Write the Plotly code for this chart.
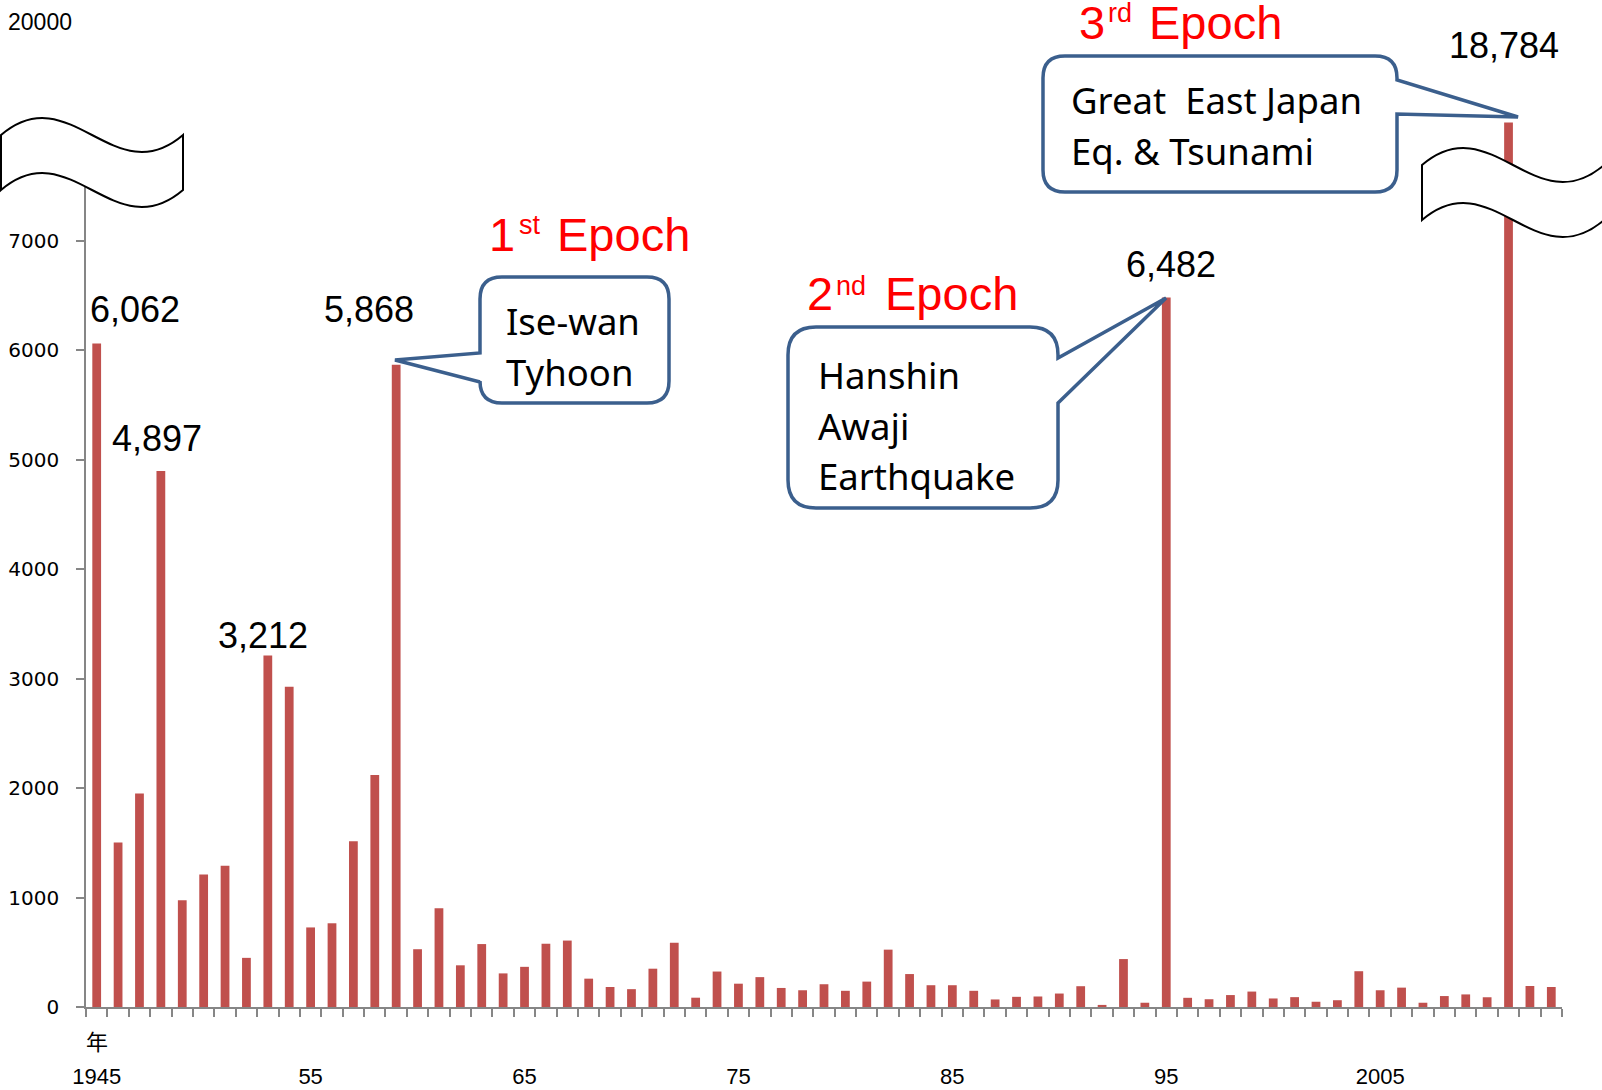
import plotly.graph_objects as go

# ---------------------------------------------------------------- data
years = list(range(1945, 2014))
deaths = [
    6062, 1504, 1950, 4897, 975, 1210, 1291, 449, 3212, 2926,   # 1945-54
    727, 765, 1515, 2120, 5868, 528, 902, 381, 575, 307,        # 1955-64
    367, 578, 607, 259, 183, 163, 350, 587, 85, 324,            # 1965-74
    213, 273, 174, 153, 208, 148, 232, 524, 301, 199,           # 1975-84
    199, 148, 69, 93, 96, 123, 190, 19, 438, 39,                # 1985-94
    6482, 84, 71, 109, 141, 78, 90, 48, 62, 327,                # 1995-2004
    153, 177, 39, 100, 115, 89, 18784, 192, 183,                # 2005-13
]
year_tick_labels = {1945: "1945", 1955: "55", 1965: "65", 1975: "75",
                    1985: "85", 1995: "95", 2005: "2005"}
lower_tick_values = [0, 1000, 2000, 3000, 4000, 5000, 6000, 7000]
upper_tick_values = [20000]
labelled_years = [1945, 1948, 1953, 1959, 1995, 2011]
epoch_ordinals = [("1", "st"), ("2", "nd"), ("3", "rd")]
event_lines = [
    ["Ise-wan", "Tyhoon"],
    ["Hanshin", "Awaji", "Earthquake"],
    ["Great\u00a0 East Japan", "Eq. & Tsunami"],
]

# ---------------------------------------------------------- geometry
W, H = 1602, 1090
PLOT_L, PLOT_R, PLOT_T, PLOT_B = 86, 1562, 22, 1007
PLOT_W = PLOT_R - PLOT_L
PLOT_H = PLOT_B - PLOT_T

LOWER_RANGE = [0, 7500]
LOWER_TOP_FRAC = 7500 / 9000          # same scale as a 0-9000 axis
UPPER_RANGE = [18150, 20000]
UPPER_BOTTOM_PX = 175                 # hidden under the break marks


def px(x):
    return (x - PLOT_L) / PLOT_W


def py(y):
    return (PLOT_B - y) / PLOT_H


def pt(x, y):
    return f"{px(x):.5f},{py(y):.5f}"


def wave_path(x0, y0, w=182, band=55, a=69, b=59):
    """Wavy band used as an axis-break mark (top-left corner at x0, y0)."""
    return (f"M{pt(x0, y0)} C{pt(x0 + a, y0 - b)} {pt(x0 + w - a, y0 + b)} {pt(x0 + w, y0)}"
            f" L{pt(x0 + w, y0 + band)}"
            f" C{pt(x0 + w - a, y0 + band + b)} {pt(x0 + a, y0 + band - b)} {pt(x0, y0 + band)} Z")


def callout_path(l, t, r, b, rad, side, j1, j2, tip):
    """Rounded box with a triangular pointer leaving the given side."""
    tx, ty = tip
    s = f"M{pt(l + rad, t)} L{pt(r - rad, t)} Q{pt(r, t)} {pt(r, t + rad)}"
    if side == "right":
        s += f" L{pt(r, j1)} L{pt(tx, ty)} L{pt(r, j2)}"
    s += f" L{pt(r, b - rad)} Q{pt(r, b)} {pt(r - rad, b)}"
    s += f" L{pt(l + rad, b)} Q{pt(l, b)} {pt(l, b - rad)}"
    if side == "left":
        s += f" L{pt(l, j2)} L{pt(tx, ty)} L{pt(l, j1)}"
    s += f" L{pt(l, t + rad)} Q{pt(l, t)} {pt(l + rad, t)} Z"
    return s


cats = [str(y) for y in years]
BAR = "#C0504D"
AXIS = "#868686"
BLUE = "#3B5F8D"
RED = "#FF0000"
ARIAL = "Liberation Sans, Arial"

fig = go.Figure()
# main bars on the lower (0-7500) axis
fig.add_trace(go.Bar(x=cats, y=deaths, marker=dict(color=BAR, line=dict(width=0)),
                     width=0.41, xaxis="x", yaxis="y", showlegend=False))
# the same bars on the upper segment of the broken axis
fig.add_trace(go.Bar(x=cats, y=deaths, marker=dict(color=BAR, line=dict(width=0)),
                     width=0.41, xaxis="x", yaxis="y2", showlegend=False))

fig.update_layout(
    template="none",
    width=W, height=H,
    margin=dict(l=PLOT_L, r=W - PLOT_R, t=PLOT_T, b=H - PLOT_B, pad=0),
    paper_bgcolor="white", plot_bgcolor="rgba(0,0,0,0)",
    barmode="overlay",
    showlegend=False,
    xaxis=dict(
        type="category", categoryorder="array", categoryarray=cats,
        range=[-0.5, len(cats) - 0.5], anchor="y",
        showline=True, linecolor=AXIS, linewidth=1.5,
        showgrid=False, zeroline=False,
        ticks="outside", ticklen=8, tickwidth=1.5, tickcolor=AXIS,
        tickson="boundaries",
        tickmode="array", tickvals=cats,
        ticktext=[year_tick_labels.get(y, "") for y in years],
        tickangle=0,
        tickfont=dict(family=ARIAL, size=22, color="black"),
        ticklabelstandoff=49, automargin=False,
    ),
    yaxis=dict(
        domain=[0, LOWER_TOP_FRAC], range=LOWER_RANGE, anchor="x",
        showline=True, linecolor=AXIS, linewidth=1.5,
        showgrid=False, zeroline=False,
        ticks="outside", ticklen=8, tickwidth=1.5, tickcolor=AXIS,
        tickmode="array", tickvals=lower_tick_values,
        ticktext=[str(v) for v in lower_tick_values],
        tickfont=dict(family="DejaVu Sans", size=20, color="black"),
        ticklabelstandoff=13, automargin=False,
    ),
    yaxis2=dict(
        domain=[py(UPPER_BOTTOM_PX), 1], range=UPPER_RANGE, anchor="x",
        showline=False, showgrid=False, zeroline=False,
        ticks="", tickmode="array", tickvals=upper_tick_values,
        ticktext=[str(v) for v in upper_tick_values],
        tickfont=dict(family=ARIAL, size=23, color="black"),
        ticklabelstandoff=13, automargin=False,
    ),
)

# value labels above the highlighted bars (x given as category index)
value_label_offsets = {1945: (38, 34), 1948: (-4, 33), 1953: (-5, 20),
                       1959: (-27, 55), 1995: (5, 33), 2011: (-5, 77)}
for yr in labelled_years:
    i = years.index(yr)
    v = deaths[i]
    dx, dy = value_label_offsets[yr]
    fig.add_annotation(
        x=i, y=v, xref="x", yref="y2" if v > LOWER_RANGE[1] else "y",
        text=f"{v:,}", showarrow=False, xanchor="center", yanchor="middle",
        xshift=dx, yshift=dy,
        font=dict(family=ARIAL, size=36, color="black"),
    )

# epoch headings: number, raised ordinal suffix, then "Epoch"
# (x centres of the three pieces, y centre of the capitals)
epoch_layout = [((502, 530, 623), 234), ((820, 851, 951), 294), ((1092, 1120, 1215), 22)]
for (num, suf), ((xn, xs, xe), yc) in zip(epoch_ordinals, epoch_layout):
    for txt, xx, yy, size in [(num, xn, yc, 47), (suf, xs, yc - 8.5, 27), ("Epoch", xe, yc, 47)]:
        fig.add_annotation(
            x=px(xx), y=py(yy), xref="paper", yref="paper", text=txt,
            showarrow=False, xanchor="center", yanchor="middle",
            font=dict(family=ARIAL, size=size, color=RED),
        )

# callout boxes
callouts = [
    dict(box=(480, 277, 669, 403), rad=22, side="left", j=(353, 382), tip=(395, 360)),
    dict(box=(788, 327, 1058, 508), rad=28, side="right", j=(358, 403), tip=(1166, 298)),
    dict(box=(1043, 56, 1397, 192), rad=22, side="right", j=(80, 114), tip=(1518, 117)),
]
for c in callouts:
    l, t, r, b = c["box"]
    fig.add_shape(type="path", xref="paper", yref="paper", layer="above",
                  path=callout_path(l, t, r, b, c["rad"], c["side"], *c["j"], c["tip"]),
                  line=dict(color=BLUE, width=3.5), fillcolor="white")

callout_text_pos = [(504, [321, 372]), (816, [375, 426, 476]), (1069, [100, 151])]
for lines, (tx, tys) in zip(event_lines, callout_text_pos):
    for line, ty in zip(lines, tys):
        fig.add_annotation(
            x=px(tx), y=py(ty), xref="paper", yref="paper", text=line,
            showarrow=False, xanchor="left", yanchor="middle",
            font=dict(family="Noto Sans", size=36.5, color="black"),
        )

# axis-break marks
for wx, wy in [(1, 135), (1422, 165)]:
    fig.add_shape(type="path", xref="paper", yref="paper", layer="above",
                  path=wave_path(wx, wy), line=dict(color="black", width=2),
                  fillcolor="white")

# unit label under the first year
fig.add_annotation(x=px(97), y=py(1040), xref="paper", yref="paper", text="年",
                   showarrow=False, xanchor="center", yanchor="middle",
                   font=dict(family="Noto Sans CJK JP", size=22, color="black"))

fig.write_html("out.html")
